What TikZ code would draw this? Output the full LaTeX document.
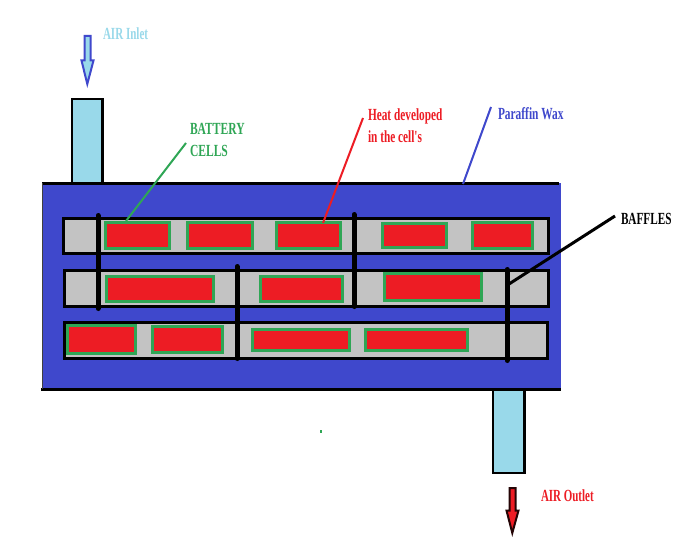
\documentclass[tikz,border=0pt]{standalone}
\usepackage{fontspec}
\setmainfont[Ligatures=TeXOff]{Liberation Serif}
\definecolor{wax}{HTML}{3F48CC}
\definecolor{heat}{HTML}{ED1C24}
\definecolor{cellgreen}{HTML}{2FA655}
\definecolor{slot}{HTML}{C3C3C3}
\definecolor{pipe}{HTML}{99D9EA}
\newcommand{\squeezed}[2]{\scalebox{#1}[1]{\bfseries\fontsize{17}{20}\selectfont #2}}
% \rectnode{style}{name}{x0}{y0}{x1}{y1}
\newcommand{\rectnode}[6]{\node[#1,minimum width={(#5-#3)*1pt},minimum height={(#6-#4)*1pt}] (#2) at ({(#3+#5)/2},{(#4+#6)/2}) {};}
\tikzset{
  x=1pt,y=-1pt,
  boxbase/.style={rectangle,inner sep=0pt,outer sep=0pt},
  slotbox/.style={boxbase,draw=black,fill=slot,line width=3pt},
  cellbox/.style={boxbase,draw=cellgreen,fill=heat,line width=2.8pt},
  pipebox/.style={boxbase,draw=black,fill=pipe,line width=2.4pt},
  waxbox/.style={boxbase,fill=wax},
  baffle/.style={line width=5pt,line cap=round,black},
  leader/.style={line width=2pt},
  lbl/.style={anchor=west,inner sep=0pt,outer sep=0pt},
  flow/.style={line width=2pt,line join=miter,miter limit=10},
}
\begin{document}
\begin{tikzpicture}
\useasboundingbox[fill=white] (0,0) rectangle (682,543);
% pipes
\rectnode{pipebox}{inlet}{71.8}{99}{102.4}{186}
\rectnode{pipebox}{outlet}{493.0}{388}{524.6}{473}
% jacket
\rectnode{waxbox}{jacket}{42}{183}{560.5}{389}
\draw[line width=3pt] (42,183.5) -- (559,183.5);
\draw[line width=3pt] (41,389) -- (561,389);
\draw[line width=1pt,black!75] (42.5,183) -- (42.5,389);
% slots
\rectnode{slotbox}{rowa}{63.5}{218.5}{548}{253.5}
\rectnode{slotbox}{rowb}{64}{270}{548}{306}
\rectnode{slotbox}{rowc}{64}{322.5}{547.5}{358}
% cells
\rectnode{cellbox}{a1}{105.3}{222.3}{169.7}{248.7}
\rectnode{cellbox}{a2}{187.3}{222.3}{252.7}{248.7}
\rectnode{cellbox}{a3}{276.3}{222.3}{340.7}{248.7}
\rectnode{cellbox}{a4}{382.3}{223.3}{446.7}{247.7}
\rectnode{cellbox}{a5}{472.3}{222.3}{532.7}{248.7}
\rectnode{cellbox}{b1}{106.3}{276.3}{213.7}{301.7}
\rectnode{cellbox}{b2}{260.3}{276.3}{342.7}{301.7}
\rectnode{cellbox}{b3}{384.3}{273.3}{481.7}{300.7}
\rectnode{cellbox}{c1}{67.3}{325.3}{135.7}{353.7}
\rectnode{cellbox}{c2}{152.3}{326.3}{222.7}{352.7}
\rectnode{cellbox}{c3}{252.3}{329.3}{349.7}{350.7}
\rectnode{cellbox}{c4}{365.3}{329.3}{467.7}{350.7}
% baffles
\coordinate (p1t) at (98,215.5); \coordinate (p1b) at (98,308.5);
\coordinate (p2t) at (237,266.5); \coordinate (p2b) at (237,358.5);
\coordinate (p3t) at (354,214.5); \coordinate (p3b) at (354,306.5);
\coordinate (p4t) at (507,269.5); \coordinate (p4b) at (507,360.5);
\draw[baffle] (p1t) -- (p1b);
\draw[baffle] (p2t) -- (p2b);
\draw[baffle] (p3t) -- (p3b);
\draw[baffle] (p4t) -- (p4b);
% labels
\node[lbl,text=pipe] (inletlbl) at (103,34) {\squeezed{0.65}{AIR Inlet}};
\node[lbl,text=cellgreen] (battlbl) at (190,129) {\squeezed{0.68}{BATTERY}};
\node[lbl,text=cellgreen] (celllbl) at (190,151) {\squeezed{0.68}{CELLS}};
\node[lbl,text=heat] (heatlbl) at (368,116) {\squeezed{0.665}{Heat developed}};
\node[lbl,text=heat] (inlbl) at (368,137) {\squeezed{0.665}{in the cell's}};
\node[lbl,text=wax] (waxlbl) at (498,114) {\squeezed{0.67}{Paraffin Wax}};
\node[lbl,text=black] (baflbl) at (621,219) {\squeezed{0.66}{BAFFLES}};
\node[lbl,text=heat] (outlbl) at (541,496) {\squeezed{0.645}{AIR Outlet}};
% leaders
\coordinate (gs) at (186,143); \coordinate (ge) at (126,221);
\coordinate (rs) at (363,118); \coordinate (re) at (323,223);
\coordinate (bs) at (491,107); \coordinate (be) at (463,184);
\coordinate (ks) at (615,216); \coordinate (ke) at (509,284);
\draw[leader,cellgreen] (gs) -- (ge);
\draw[leader,heat] (rs) -- (re);
\draw[leader,wax] (bs) -- (be);
\draw[line width=3pt,black] (ks) -- (ke);
% flow arrows
\draw[flow,draw=wax,fill=pipe] (84.5,36) -- (90.5,36) -- (90.5,60.5) -- (93.5,60.5) -- (87.3,84) -- (81.5,60.5) -- (84.5,60.5) -- cycle;
\draw[flow,draw=black!85!heat,fill=heat] (509.5,488) -- (515.5,488) -- (515.5,510.5) -- (518.5,510.5) -- (512.3,533) -- (506.5,510.5) -- (509.5,510.5) -- cycle;
% speck
\fill[cellgreen] (320,429.5) rectangle (322,432.5);
\end{tikzpicture}
\end{document}
